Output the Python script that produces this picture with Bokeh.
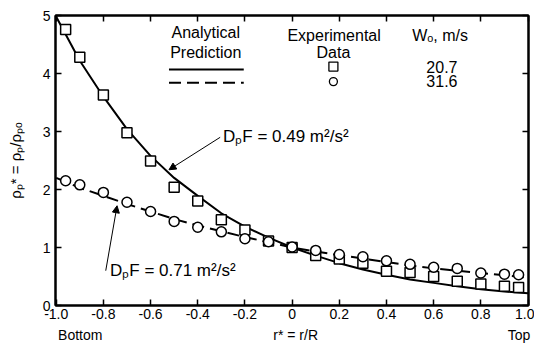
from bokeh.plotting import figure
from bokeh.models import Range1d, LinearAxis, FixedTicker, Label, Arrow, NormalHead
from bokeh.embed import file_html
from bokeh.resources import INLINE

# ---------------- data ----------------
r_curve = [-1.0, -0.9, -0.8, -0.7, -0.6, -0.5, -0.4, -0.3, -0.2, -0.1, 0.0,
           0.1, 0.2, 0.3, 0.4, 0.5, 0.6, 0.7, 0.8, 0.9, 1.0]
rho_pred_049 = [4.98, 4.22, 3.60, 3.04, 2.58, 2.20, 1.89, 1.59, 1.36, 1.17, 1.00,
                0.86, 0.73, 0.62, 0.53, 0.45, 0.39, 0.33, 0.28, 0.24, 0.21]
rho_pred_071 = [2.20, 2.03, 1.89, 1.75, 1.62, 1.49, 1.38, 1.28, 1.18, 1.09, 1.00,
                0.93, 0.87, 0.81, 0.75, 0.69, 0.64, 0.60, 0.56, 0.52, 0.48]

r_exp_207 = [-0.96, -0.9, -0.8, -0.7, -0.6, -0.5, -0.4, -0.3, -0.2, -0.1, 0.0,
             0.1, 0.2, 0.3, 0.4, 0.5, 0.6, 0.7, 0.8, 0.9, 0.96]
rho_exp_207 = [4.76, 4.28, 3.63, 2.98, 2.49, 2.04, 1.80, 1.48, 1.30, 1.11, 1.00,
               0.86, 0.80, 0.73, 0.59, 0.57, 0.50, 0.42, 0.37, 0.33, 0.31]

r_exp_316 = [-0.96, -0.9, -0.8, -0.7, -0.6, -0.5, -0.4, -0.3, -0.2, -0.1, 0.0,
             0.1, 0.2, 0.3, 0.4, 0.5, 0.6, 0.7, 0.8, 0.9, 0.96]
rho_exp_316 = [2.15, 2.08, 1.95, 1.78, 1.62, 1.45, 1.35, 1.27, 1.15, 1.10, 1.01,
               0.95, 0.88, 0.84, 0.77, 0.71, 0.66, 0.64, 0.56, 0.54, 0.53]

x_ticks = [-1.0, -0.8, -0.6, -0.4, -0.2, 0.0, 0.2, 0.4, 0.6, 0.8, 1.0]
x_tick_labels = ["-1.0", "-0.8", "-0.6", "-0.4", "-0.2", "0", "0.2", "0.4", "0.6", "0.8", "1.0"]
y_ticks = [0, 1, 2, 3, 4, 5]
y_tick_labels = ["0", "1", "2", "3", "4", "5"]

# second row under the x axis: end names and the axis title
x_row2_pos = [-0.898, 0.015, 0.962]
x_row2_labels = ["Bottom", "r* = r/R", "Top"]

# ---------------- figure ----------------
FONT = "Liberation Sans"

p = figure(width=534, height=348, output_backend="svg", toolbar_location=None,
           x_range=Range1d(-1.003, 1.002), y_range=Range1d(0, 5.0),
           min_border_left=55, min_border_right=6, min_border_top=15, min_border_bottom=43)
p.background_fill_color = "white"
p.border_fill_color = "white"
p.outline_line_color = "black"
p.outline_line_width = 2
p.xgrid.visible = False
p.ygrid.visible = False


def style_axis(ax, ticks, labels, show_labels=True):
    ax.ticker = FixedTicker(ticks=ticks)
    ax.major_label_overrides = {t: l for t, l in zip(ticks, labels)}
    ax.axis_line_color = "black"
    ax.axis_line_width = 2
    ax.major_tick_in = 6
    ax.major_tick_out = 0
    ax.major_tick_line_width = 1.5
    ax.minor_tick_line_color = None
    ax.major_label_text_font = FONT
    ax.major_label_text_color = "black"
    if show_labels:
        ax.major_label_text_font_size = "14px"
    else:
        ax.major_label_text_font_size = "0px"
        ax.major_label_text_color = None
        ax.major_label_standoff = 0


xa = p.xaxis[0]
style_axis(xa, x_ticks, x_tick_labels)
xa.major_label_standoff = 3

row2 = LinearAxis()
row2.ticker = FixedTicker(ticks=x_row2_pos)
row2.major_label_overrides = {t: l for t, l in zip(x_row2_pos, x_row2_labels)}
row2.axis_line_color = None
row2.major_tick_line_color = None
row2.minor_tick_line_color = None
row2.major_tick_in = 0
row2.major_tick_out = 0
row2.major_label_standoff = 5
row2.major_label_text_font = FONT
row2.major_label_text_font_size = "14px"
row2.major_label_text_color = "black"
p.add_layout(row2, "below")

ya = p.yaxis[0]
style_axis(ya, y_ticks, y_tick_labels)
ya.major_label_standoff = 5
ya.axis_label = "ρₚ* = ρₚ/ρₚₒ"
ya.axis_label_text_font = FONT
ya.axis_label_text_font_style = "normal"
ya.axis_label_text_font_size = "15px"
ya.axis_label_text_color = "black"
ya.axis_label_standoff = 16

top_ax = LinearAxis()
style_axis(top_ax, x_ticks, x_tick_labels, show_labels=False)
p.add_layout(top_ax, "above")

right_ax = LinearAxis()
style_axis(right_ax, y_ticks, y_tick_labels, show_labels=False)
p.add_layout(right_ax, "right")

# ---------------- curves and data ----------------
p.line(r_curve, rho_pred_049, line_color="black", line_width=2)
p.line(r_curve, rho_pred_071, line_color="black", line_width=2, line_dash="12 6")

p.scatter(r_exp_207, rho_exp_207, marker="square", size=10, line_color="black",
          line_width=1.5, fill_color="white")
p.scatter(r_exp_316, rho_exp_316, marker="circle", size=10, line_color="black",
          line_width=1.5, fill_color="white")

# ---------------- legend (table style) ----------------
def lab(x, y, text, align="center", size="16px"):
    p.add_layout(Label(x=x, y=y, text=text, text_align=align, text_baseline="middle",
                       text_font=FONT, text_font_size=size, text_color="black"))

lab(-0.366, 4.70, "Analytical")
lab(-0.366, 4.37, "Prediction")
p.line([-0.522, -0.205], [4.07, 4.07], line_color="black", line_width=2)
p.line([-0.522, -0.205], [3.84, 3.84], line_color="black", line_width=2, line_dash="12 6")

lab(0.178, 4.65, "Experimental")
lab(0.175, 4.36, "Data")
p.scatter([0.175], [4.12], marker="square", size=9, line_color="black", line_width=1.3,
          fill_color="white")
p.scatter([0.175], [3.86], marker="circle", size=8, line_color="black", line_width=1.3,
          fill_color="white")

lab(0.627, 4.65, "Wₒ, m/s")
lab(0.635, 4.12, "20.7")
lab(0.635, 3.87, "31.6")

# ---------------- annotations ----------------
lab(-0.293, 2.92, "DₚF = 0.49 m²/s²", align="left", size="17px")
p.add_layout(Arrow(end=NormalHead(size=7, fill_color="black", line_color="black"),
                   x_start=-0.305, y_start=2.90, x_end=-0.522, y_end=2.34,
                   line_color="black", line_width=1))

lab(-0.772, 0.60, "DₚF = 0.71 m²/s²", align="left", size="17px")
p.add_layout(Arrow(end=NormalHead(size=7, fill_color="black", line_color="black"),
                   x_start=-0.79, y_start=0.60, x_end=-0.742, y_end=1.72,
                   line_color="black", line_width=1))

open("out.html", "w").write(file_html(p, INLINE))
